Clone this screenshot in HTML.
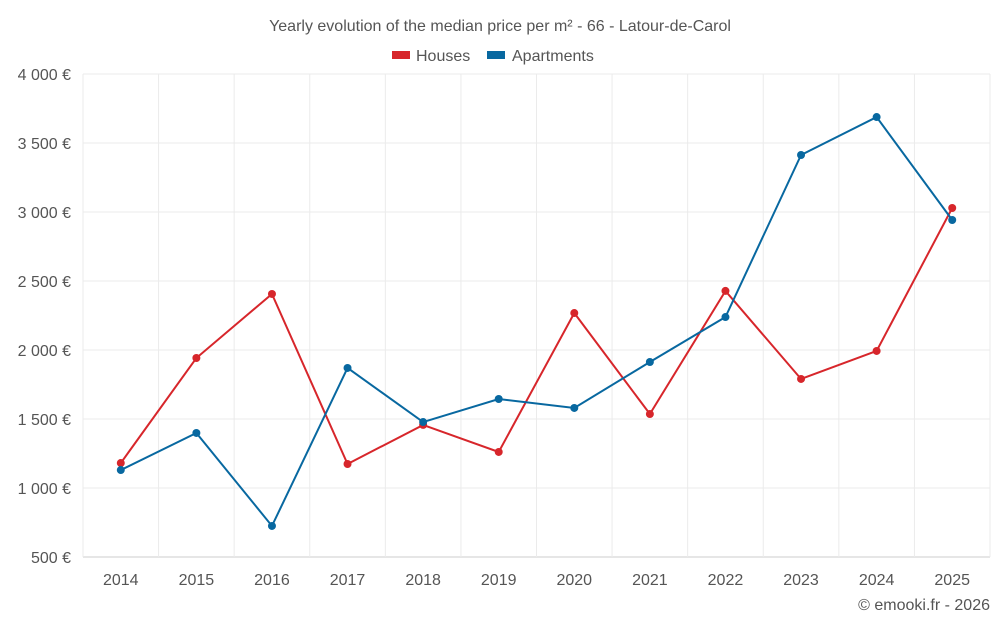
<!DOCTYPE html>
<html><head><meta charset="utf-8"><style>
html,body{margin:0;padding:0;background:#fff;}
svg{display:block;font-family:"Liberation Sans",sans-serif;}
</style></head><body>
<svg id="chart" width="1000" height="625">
<text x="500" y="31" text-anchor="middle" font-size="16" fill="#555">Yearly evolution of the median price per m² - 66 - Latour-de-Carol</text>
<g>
<g><rect x="392" y="51" width="18" height="8" fill="#d7262b"/><text x="416" y="61" font-size="16" fill="#555">Houses</text></g>
<g><rect x="487" y="51" width="18" height="8" fill="#0868a0"/><text x="512" y="61" font-size="16" fill="#555">Apartments</text></g>
</g>
<g id="grid"></g>
<g id="yaxis"></g>
<g id="xaxis"></g>
<g id="series"></g>
<text x="990" y="610" text-anchor="end" font-size="16" fill="#555">© emooki.fr - 2026</text>
</svg>
<script>
const years=["2014","2015","2016","2017","2018","2019","2020","2021","2022","2023","2024","2025"];
const houses=[1181,1942,2406,1174,1457,1261,2268,1536,2428,1790,1993,3029];
const apartments=[1130,1399,725,1870,1478,1645,1580,1913,2239,3413,3688,2942];
const yTicks=[500,1000,1500,2000,2500,3000,3500,4000];
const yTickLabels=["500 €","1 000 €","1 500 €","2 000 €","2 500 €","3 000 €","3 500 €","4 000 €"];
const L=83,R=990,T=74,B=557,yMin=500,yMax=4000;
const bw=(R-L)/years.length;
const X=i=>L+bw*(i+0.5);
const Y=v=>B-(v-yMin)/(yMax-yMin)*(B-T);
const NS="http://www.w3.org/2000/svg";
function mk(tag,attrs,parent){const e=document.createElementNS(NS,tag);for(const k in attrs)e.setAttribute(k,attrs[k]);parent.appendChild(e);return e;}
const grid=document.getElementById('grid'),ya=document.getElementById('yaxis'),xa=document.getElementById('xaxis'),ser=document.getElementById('series');
yTicks.forEach((t,i)=>{
 const l=mk('line',{x1:L,x2:R,y1:Y(t),y2:Y(t),stroke:i===0?'#ccc':'#ebebeb','stroke-width':1},grid);
 
 
 const tx=mk('text',{x:71,y:Y(t)+6,'text-anchor':'end','font-size':16,fill:'#555'},ya);
 tx.textContent=yTickLabels[i];
 
 
});
for(let i=0;i<=years.length;i++){
 const l=mk('line',{x1:L+bw*i,x2:L+bw*i,y1:T,y2:B,stroke:'#ebebeb','stroke-width':1},grid);
 
 
}
years.forEach((y,i)=>{
 const tx=mk('text',{x:X(i),y:585,'text-anchor':'middle','font-size':16,fill:'#555'},xa);
 tx.textContent=y;
 
 
});
function draw(vals,color,name){
 const g=mk('g',{},ser);
 
 
 const p=mk('polyline',{points:vals.map((v,i)=>X(i)+','+Y(v)).join(' '),fill:'none',stroke:color,'stroke-width':2},g);
 
 
 vals.forEach((v,i)=>{
  const c=mk('circle',{cx:X(i),cy:Y(v),r:4,fill:color},g);
  
  
 });
}
draw(houses,'#d7262b','houses');
draw(apartments,'#0868a0','apartments');
</script>
</body></html>
